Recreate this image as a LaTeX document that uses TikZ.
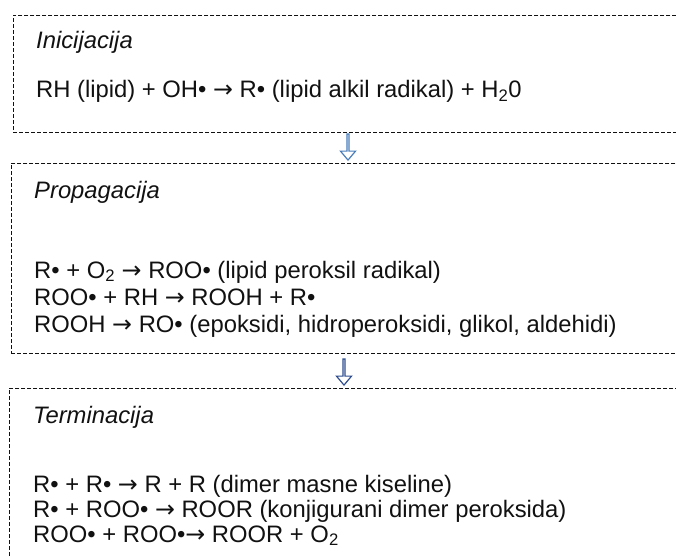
\documentclass[tikz,border=0pt]{standalone}
\usepackage{fontspec}
\setmainfont{Liberation Sans}
\newfontfamily\arrowfont{DejaVu Sans}
\usetikzlibrary{shapes.arrows}
\definecolor{arrowA}{HTML}{4A7EBB}
\definecolor{arrowB}{HTML}{2F4E8F}
\definecolor{ink}{HTML}{111111}
\newcommand{\rarr}{{\arrowfont →}}
\begin{document}
\begin{tikzpicture}[x=1pt,y=-1pt,
  stagebox/.style={draw=ink, dash pattern=on 4pt off 2pt, line width=0.9pt,
    rectangle, anchor=north west, inner sep=0pt, minimum width=720pt},
  txt/.style={anchor=base west, inner sep=0pt, text=ink,
    font=\fontsize{23.8}{28}\selectfont},
  ttl/.style={txt, font=\fontsize{23.8}{28}\selectfont\itshape},
  downarrow/.style={single arrow, shape border rotate=270, fill=white,
    line width=1.2pt, minimum height=26pt, minimum width=15pt,
    single arrow head extend=4pt, single arrow tip angle=80, inner sep=0pt}
]
\useasboundingbox (0,0) rectangle (676,556);
% boxes
\node[stagebox, minimum height=117pt] (box1) at (13,15) {};
\node[stagebox, minimum height=190pt] (box2) at (11,163) {};
\node[stagebox, minimum height=220pt] (box3) at (9,388) {};
% arrows between boxes
\node[downarrow, draw=arrowA] (arr1) at (348,146.5) {};
\node[downarrow, draw=arrowB] (arr2) at (344,371.5) {};
% box 1
\node[ttl] (t1) at (36,49) {Inicijacija};
\node[txt] (l11) at (36,98) {RH (lipid) + OH• \rarr\ R• (lipid alkil radikal) + H\textsubscript{2}0};
% box 2
\node[ttl] (t2) at (34,198) {Propagacija};
\node[txt] (l21) at (34,278) {R• + O\textsubscript{2} \rarr\ ROO• (lipid peroksil radikal)};
\node[txt] (l22) at (34,305) {ROO• + RH \rarr\ ROOH + R•};
\node[txt] (l23) at (34,332) {ROOH \rarr\ RO• (epoksidi, hidroperoksidi, glikol, aldehidi)};
% box 3
\node[ttl] (t3) at (33,423) {Terminacija};
\node[txt] (l31) at (33,492) {R• + R• \rarr\ R + R (dimer masne kiseline)};
\node[txt] (l32) at (33,517) {R• + ROO• \rarr\ ROOR (konjigurani dimer peroksida)};
\node[txt] (l33) at (33,542) {ROO• + ROO•\rarr\ ROOR + O\textsubscript{2}};
\end{tikzpicture}
\end{document}
